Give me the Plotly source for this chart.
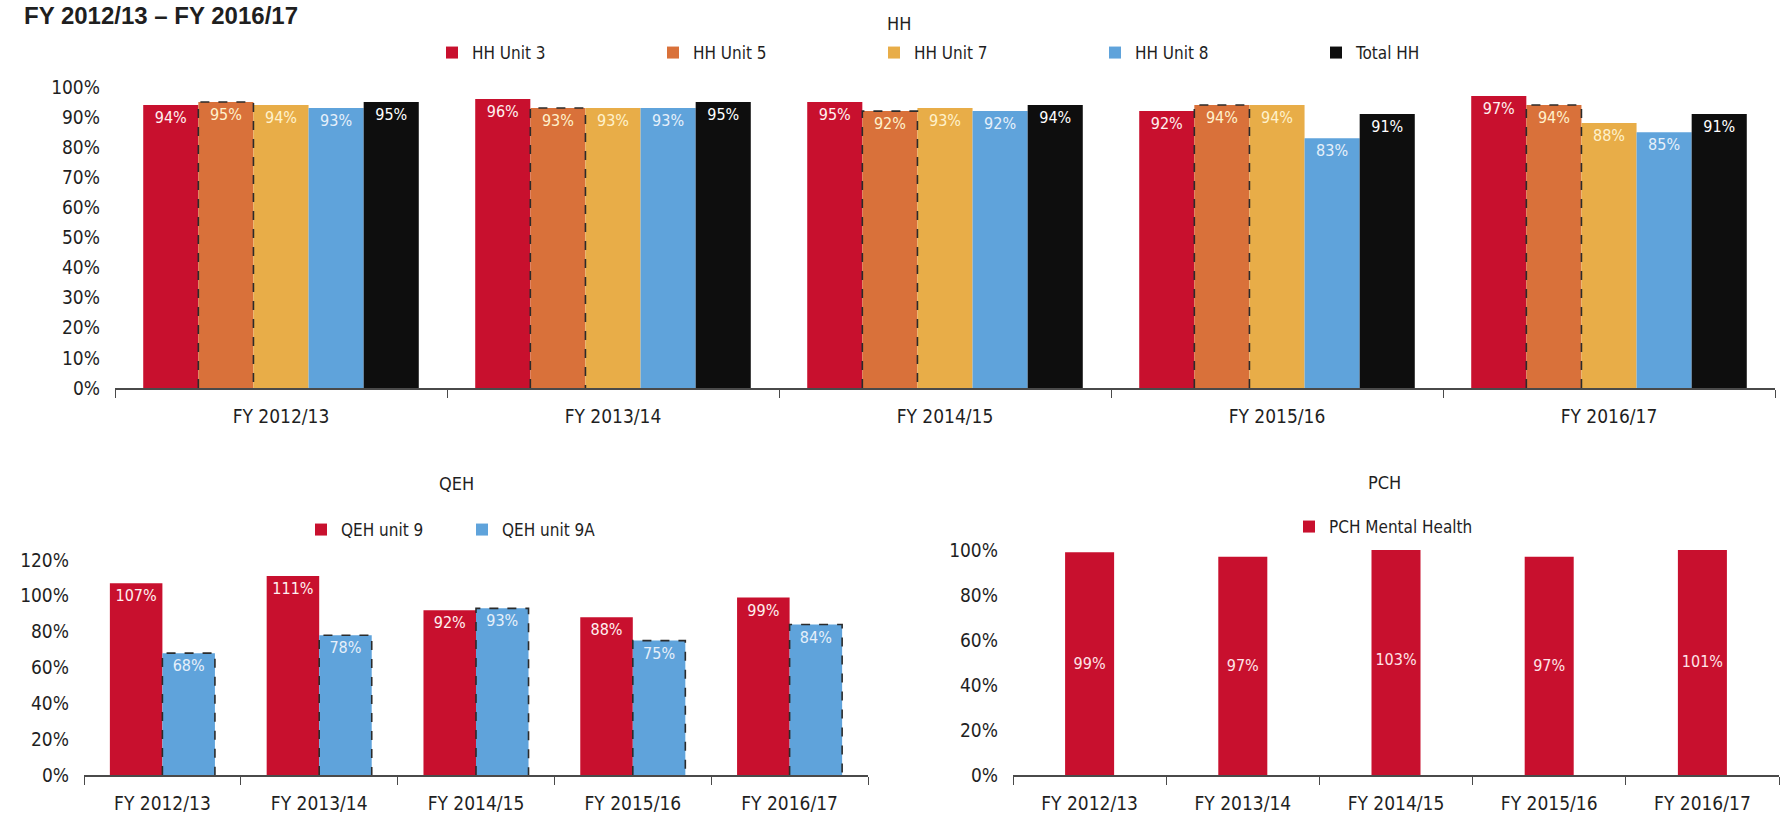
import plotly.graph_objects as go

# ---- data (percent of capacity) ----
years = ["FY 2012/13", "FY 2013/14", "FY 2014/15", "FY 2015/16", "FY 2016/17"]

hh_unit3 = [94, 96, 95, 92, 97]
hh_unit5 = [95, 93, 92, 94, 94]
hh_unit7 = [94, 93, 93, 94, 88]
hh_unit8 = [93, 93, 92, 83, 85]
hh_total = [95, 95, 94, 91, 91]

qeh_unit9 = [107, 111, 92, 88, 99]
qeh_unit9a = [68, 78, 93, 75, 84]

pch_mental = [99, 97, 103, 97, 101]

hh_ticks = [i / 10 for i in range(0, 11)]
qeh_ticks = [i / 5 for i in range(0, 7)]
pch_ticks = [i / 5 for i in range(0, 6)]

# ---- styling ----
W, H = 1784, 816
FONT = "Liberation Sans Narrow, DejaVu Sans Condensed, Arial Narrow, sans-serif"
INK = "#1f1f1f"
AXIS = "#4a4a4a"
RED, ORANGE, YELLOW, BLUE, BLACK = "#C8102E", "#D9713A", "#E8AD48", "#5FA3DB", "#0E0E0E"


def fx(p):
    return p / W


def fy(p):
    return 1 - p / H


fig = go.Figure()
xs = list(range(len(years)))


def add_bars(vals, name, color, txtcolor, off, w, xa, ya, legend, anchor="end", dashed=False):
    fig.add_trace(go.Bar(
        x=xs, y=[v / 100 for v in vals], name=name,
        offset=off, width=w,
        marker=dict(color=color, line=dict(width=0)),
        text=[f"{v}%" for v in vals], textposition="inside",
        insidetextanchor=anchor, textangle=0,
        textfont=dict(family=FONT, size=16, color=txtcolor),
        xaxis=xa, yaxis=ya, legend=legend, hoverinfo="skip",
    ))
    if dashed:
        # dashed border traced around each bar of the series
        lx, ly = [], []
        for i, v in enumerate(vals):
            x0, x1, top = i + off, i + off + w, v / 100
            lx += [x0, x0, x1, x1, None]
            ly += [0, top, top, 0, None]
        fig.add_trace(go.Scatter(
            x=lx, y=ly, mode="lines", showlegend=False, hoverinfo="skip",
            line=dict(color="#2b2b2b", width=1.6, dash="dash"),
            xaxis=xa, yaxis=ya,
        ))


# HH: five bars per year
hh_series = [
    (hh_unit3, "HH Unit 3", RED, "#FFF0F0", False),
    (hh_unit5, "HH Unit 5", ORANGE, "#FFF2CC", True),
    (hh_unit7, "HH Unit 7", YELLOW, "#FFF2CC", False),
    (hh_unit8, "HH Unit 8", BLUE, "#E6F0FA", False),
    (hh_total, "Total HH", BLACK, "#FFFFFF", False),
]
bw = 0.166
for k, (vals, name, col, tcol, dsh) in enumerate(hh_series):
    add_bars(vals, name, col, tcol, -2.5 * bw + k * bw, bw, "x", "y", "legend", dashed=dsh)

# QEH: two bars per year
qw = 0.335
add_bars(qeh_unit9, "QEH unit 9", RED, "#FFF0F0", -qw, qw, "x2", "y2", "legend2")
add_bars(qeh_unit9a, "QEH unit 9A", BLUE, "#E6F0FA", 0, qw, "x2", "y2", "legend2", dashed=True)

# PCH: single series, labels centred
pw = 0.32
add_bars(pch_mental, "PCH Mental Health", RED, "#FFE4E8", -pw / 2, pw, "x3", "y3", "legend3",
         anchor="middle")


def xaxis(domain, anchor):
    return dict(
        domain=domain, anchor=anchor, range=[-0.5, 4.5], fixedrange=True,
        tickmode="array", tickvals=xs, ticktext=years, ticks="",
        tickfont=dict(family=FONT, size=19, color=INK), ticklabelstandoff=10,
        showline=True, linecolor=AXIS, linewidth=1.5, showgrid=False, zeroline=False,
        minor=dict(tickmode="array", tickvals=[i - 0.5 for i in range(len(years) + 1)],
                   ticks="outside", ticklen=8, tickcolor=AXIS, tickwidth=1.2, showgrid=False),
        automargin=False,
    )


def yaxis(domain, anchor, rng, ticks):
    return dict(
        domain=domain, anchor=anchor, range=rng, fixedrange=True,
        tickmode="array", tickvals=ticks, tickformat=".0%",
        tickfont=dict(family=FONT, size=19, color=INK), ticklabelstandoff=14,
        showline=False, showgrid=False, zeroline=False, ticks="", automargin=False,
    )


def legend(xp, yp, entry):
    return dict(
        orientation="h", x=fx(xp), xanchor="left", y=fy(yp), yanchor="middle",
        entrywidth=entry, entrywidthmode="pixels", traceorder="normal",
        font=dict(family=FONT, size=17, color=INK), bgcolor="rgba(0,0,0,0)",
        itemclick=False, itemdoubleclick=False,
    )


fig.update_layout(
    width=W, height=H, autosize=False,
    margin=dict(l=0, r=0, t=0, b=0),
    paper_bgcolor="white", plot_bgcolor="white",
    barmode="overlay", showlegend=True,
    xaxis=xaxis([fx(115), fx(1775)], "y"),
    yaxis=yaxis([fy(388), fy(87)], "x", [0, 1.0], hh_ticks),
    xaxis2=xaxis([fx(84), fx(868)], "y2"),
    yaxis2=yaxis([fy(775), fy(560)], "x2", [0, 1.2], qeh_ticks),
    xaxis3=xaxis([fx(1013), fx(1779)], "y3"),
    yaxis3=yaxis([fy(775), fy(550)], "x3", [0, 1.0], pch_ticks),
    legend=legend(432, 53, 176),
    legend2=legend(301, 530, 116),
    legend3=legend(1289, 527, 200),
    font=dict(family=FONT, color=INK),
)

titles = [
    ("HH", 899, 23),
    ("QEH", 456, 483),
    ("PCH", 1384, 482),
]
for text, xp, yp in titles:
    fig.add_annotation(text=text, x=fx(xp), y=fy(yp), xref="paper", yref="paper",
                       showarrow=False, xanchor="center", yanchor="middle",
                       font=dict(family=FONT, size=18, color=INK))

fig.add_annotation(text="<b>FY 2012/13 \u2013 FY 2016/17</b>", x=fx(22), y=fy(15),
                   xref="paper", yref="paper", showarrow=False,
                   xanchor="left", yanchor="middle",
                   font=dict(family="Liberation Sans, Arial, sans-serif", size=24, color=INK))

fig.write_html("out.html")
